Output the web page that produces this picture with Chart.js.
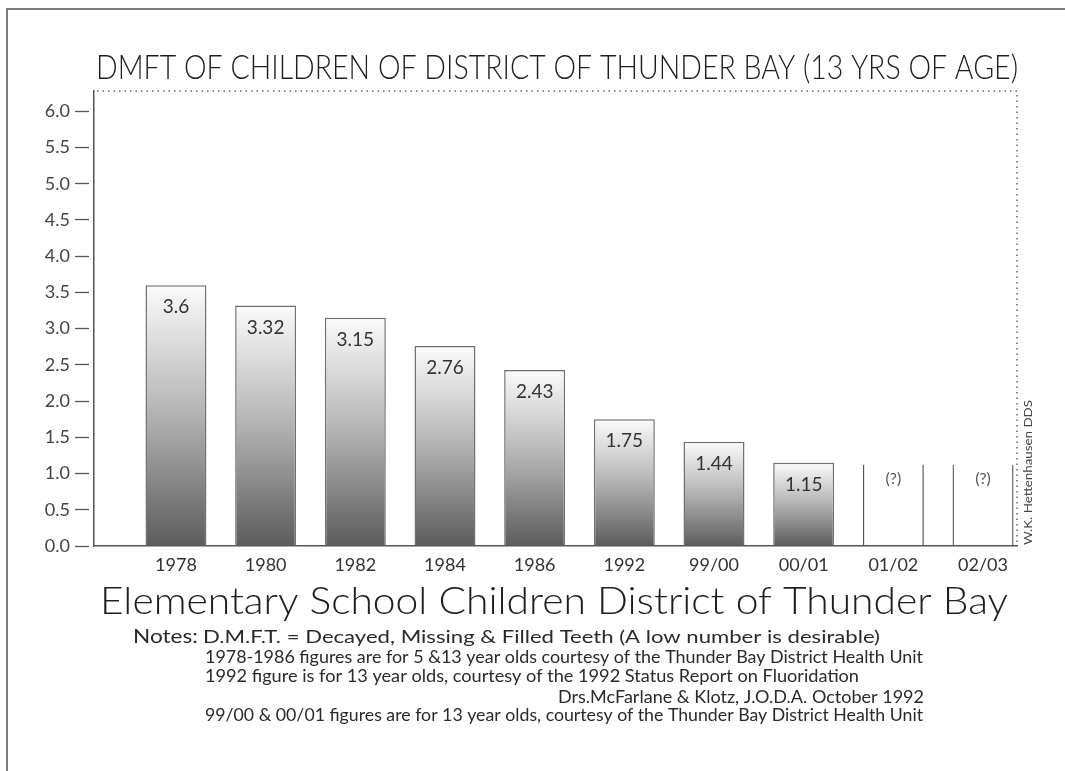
<!DOCTYPE html>
<html>
<head>
<meta charset="utf-8">
<script src="https://cdn.jsdelivr.net/npm/chart.js@4"></script>
<style>
  html, body { margin: 0; padding: 0; background: #fff; }
  #wrap { width: 1065px; height: 771px; }
</style>
</head>
<body>
<div id="wrap"><canvas id="myChart"></canvas></div>
<script>
const years = ["1978", "1980", "1982", "1984", "1986", "1992", "99/00", "00/01", "01/02", "02/03"];
const dmft = [3.6, 3.32, 3.15, 2.76, 2.43, 1.75, 1.44, 1.15, null, null];
// the two latest years have no figure yet, only an open "(?)" box
const pending = [null, null, null, null, null, null, null, null, 1.12, 1.12];
const pendingLabel = "(?)";
const yTicks = [0, 0.5, 1, 1.5, 2, 2.5, 3, 3.5, 4, 4.5, 5, 5.5, 6];

const title = "DMFT OF CHILDREN OF DISTRICT OF THUNDER BAY (13 YRS OF AGE)";
const xTitle = "Elementary School Children District of Thunder Bay";
const notesHead = "Notes:";
const notes = [
  "D.M.F.T. = Decayed, Missing & Filled Teeth (A low number is desirable)",
  "1978-1986 figures are for 5 &13 year olds courtesy of the Thunder Bay District Health Unit",
  "1992 figure is for 13 year olds, courtesy of the 1992 Status Report on Fluoridation",
  "Drs.McFarlane & Klotz, J.O.D.A. October 1992",
  "99/00 & 00/01 figures are for 13 year olds, courtesy of the Thunder Bay District Health Unit"
];
const credit = "W.K. Hettenhausen DDS";

const FONT = 'Lato, "DejaVu Sans", sans-serif';

function barGradient(c) {
  const chart = c.chart;
  if (!chart.chartArea || !c.raw || c.raw.y == null) return "#999";
  const y = chart.scales.y;
  const top = y.getPixelForValue(c.raw.y);
  const base = y.getPixelForValue(0);
  const g = chart.ctx.createLinearGradient(0, top, 0, base);
  g.addColorStop(0, "#fbfbfb");
  g.addColorStop(0.5, "#b2b2b2");
  g.addColorStop(1, "#5c5c5c");
  return g;
}

// squeeze or stretch a line of text so it covers the given width
function fitText(ctx, text, x, y, width, align) {
  const w = ctx.measureText(text).width;
  ctx.save();
  ctx.translate(x, y);
  ctx.scale(width / w, 1);
  ctx.textAlign = align || "left";
  ctx.fillText(text, 0, 0);
  ctx.restore();
}

const decor = {
  id: "decor",
  beforeDraw(chart) {
    const ctx = chart.ctx;
    ctx.save();
    ctx.fillStyle = "#fff";
    ctx.fillRect(0, 0, chart.width, chart.height);
    ctx.strokeStyle = "#7a7a7a";
    ctx.lineWidth = 2;
    ctx.beginPath();
    ctx.moveTo(chart.width, 9);
    ctx.lineTo(7, 9);
    ctx.lineTo(7, chart.height);
    ctx.stroke();
    ctx.restore();
  },
  afterDatasetsDraw(chart) {
    const ctx = chart.ctx;
    ctx.save();
    ctx.textAlign = "center";
    ctx.textBaseline = "middle";
    ctx.fillStyle = "#333";
    ctx.font = "19px " + FONT;
    chart.getDatasetMeta(0).data.forEach((el, i) => {
      if (dmft[i] == null) return;
      ctx.fillText(String(dmft[i]), el.x, el.y + 22);
    });
    ctx.font = "16px " + FONT;
    ctx.fillStyle = "#555";
    chart.getDatasetMeta(1).data.forEach((el, i) => {
      if (pending[i] == null) return;
      ctx.fillText(pendingLabel, el.x, el.y + 14);
    });
    ctx.restore();
  },
  afterDraw(chart) {
    const ctx = chart.ctx;
    const a = chart.chartArea;
    ctx.save();
    // dotted frame on top and right of the plot
    ctx.strokeStyle = "#666";
    ctx.lineWidth = 1.5;
    ctx.setLineDash([1.5, 4]);
    ctx.beginPath();
    ctx.moveTo(a.left + 3, a.top);
    ctx.lineTo(a.right, a.top);
    ctx.lineTo(a.right, a.bottom);
    ctx.stroke();
    ctx.setLineDash([]);

    ctx.textBaseline = "alphabetic";
    ctx.fillStyle = "#1e1e1e";
    ctx.font = "300 34px " + FONT;
    fitText(ctx, title, 96, 79, 922);

    ctx.font = "300 37px " + FONT;
    fitText(ctx, xTitle, 100, 614, 908);

    ctx.fillStyle = "#2a2a2a";
    ctx.font = "19px " + FONT;
    fitText(ctx, notesHead, 133, 643, 65);
    ctx.font = "17px " + FONT;
    fitText(ctx, notes[0], 203, 643, 677);
    fitText(ctx, notes[1], 205, 663, 718);
    fitText(ctx, notes[2], 205, 682, 654);
    fitText(ctx, notes[3], 924, 703, 366, "right");
    fitText(ctx, notes[4], 205, 721, 718);

    // credit written upwards beside the plot
    ctx.fillStyle = "#444";
    ctx.font = "12px " + FONT;
    ctx.translate(1028, 545);
    ctx.rotate(-Math.PI / 2);
    ctx.textBaseline = "middle";
    fitText(ctx, credit, 0, 0, 145);
    ctx.restore();
  }
};

const ctx = document.getElementById("myChart").getContext("2d");
const myChart = new Chart(ctx, {
  type: "bar",
  data: {
    datasets: [
      {
        label: "DMFT",
        data: dmft.map((v, i) => ({ x: i, y: v })),
        backgroundColor: barGradient,
        borderColor: "#707070",
        borderWidth: 1.5,
        borderSkipped: "bottom"
      },
      {
        label: "no figure",
        data: pending.map((v, i) => ({ x: i, y: v })),
        backgroundColor: "rgba(0,0,0,0)",
        borderColor: "#555",
        borderWidth: { left: 1.3, right: 1.3, top: 0, bottom: 0 },
        borderSkipped: false
      }
    ]
  },
  options: {
    responsive: true,
    maintainAspectRatio: false,
    animation: false,
    layout: { padding: { left: 0, top: 91, right: 48, bottom: 195 } },
    datasets: { bar: { grouped: false, categoryPercentage: 1, barPercentage: 0.68 } },
    plugins: {
      legend: { display: false },
      tooltip: { enabled: false },
      title: { display: false }
    },
    scales: {
      x: {
        type: "linear",
        offset: false,
        min: -0.914,
        max: 9.379,
        afterFit: (s) => { s.height = 30; },
        afterBuildTicks: (axis) => { axis.ticks = years.map((_, i) => ({ value: i })); },
        grid: { display: false, drawTicks: false, offset: false },
        border: { display: true, color: "#555", width: 1.5 },
        ticks: {
          autoSkip: false,
          maxRotation: 0,
          padding: 8,
          color: "#333",
          font: { family: FONT, size: 18 },
          callback: (v) => years[v]
        }
      },
      y: {
        min: 0,
        max: 6.28,
        afterFit: (s) => { s.width = 94; },
        afterBuildTicks: (axis) => { axis.ticks = yTicks.map((v) => ({ value: v })); },
        grid: {
          drawOnChartArea: false,
          tickLength: 19,
          tickBorderDash: [14, 10],
          tickColor: "#555",
          tickWidth: 1.3
        },
        border: { display: true, color: "#555", width: 1.5 },
        ticks: {
          padding: 5,
          color: "#444",
          font: { family: FONT, size: 18 },
          callback: (v) => Number(v).toFixed(1)
        }
      }
    }
  },
  plugins: [decor]
});
</script>
</body>
</html>
